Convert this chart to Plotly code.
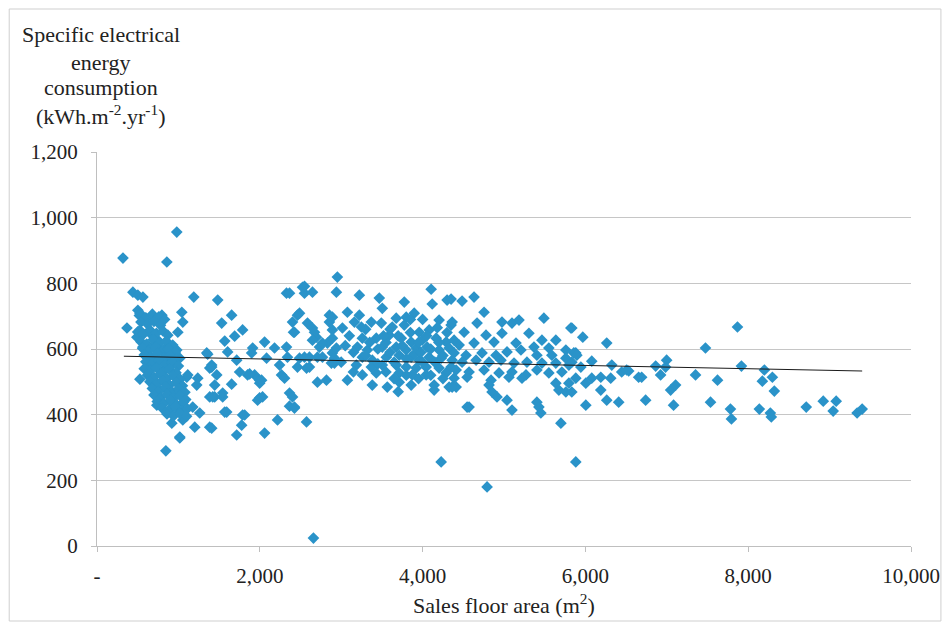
import plotly.graph_objects as go

# (sales floor area m2, specific electrical energy consumption kWh/m2/yr)
small_stores = [
    (319, 877), (858, 865), (980, 956), (846, 290), (1017, 329), (441, 773), (502, 764), (564, 758),
    (1189, 758), (368, 664), (502, 718), (527, 709), (686, 694), (797, 703), (1042, 712), (1054, 682),
    (993, 651), (490, 636), (527, 657), (650, 648), (748, 627), (564, 606), (686, 606), (858, 606),
    (980, 597), (1348, 588), (613, 575), (735, 566), (858, 575), (1017, 572), (650, 545), (772, 536),
    (895, 545), (1385, 542), (527, 508), (686, 505), (809, 505), (1103, 514), (1238, 511), (1225, 490),
    (1446, 490), (735, 484), (858, 475), (980, 466), (1054, 466), (1385, 454), (1446, 454), (772, 454),
    (735, 429), (931, 435), (895, 414), (1017, 405), (1176, 423), (1262, 405), (1054, 384), (919, 374),
    (1201, 362), (1385, 362), (1017, 332), (1409, 359), (1409, 551), (1360, 584), (1115, 521),
]

dense_small_stores = [
    (520, 702), (600, 695), (680, 706), (760, 698), (830, 690), (540, 682), (620, 676), (700, 684),
    (780, 672), (500, 652), (570, 645), (650, 658), (730, 648), (810, 655), (870, 642), (540, 622),
    (610, 615), (690, 628), (770, 618), (850, 624), (930, 612), (560, 602), (640, 596), (720, 605),
    (800, 594), (880, 600), (960, 590), (580, 582), (660, 575), (740, 586), (820, 572), (900, 580),
    (980, 570), (600, 561), (680, 555), (760, 564), (840, 552), (920, 560), (1000, 548), (580, 540),
    (650, 534), (730, 543), (810, 530), (890, 538), (970, 528), (620, 520), (700, 514), (780, 524),
    (860, 510), (940, 518), (1020, 508), (650, 500), (730, 494), (810, 503), (890, 490), (970, 498),
    (1050, 488), (680, 480), (760, 472), (840, 484), (920, 470), (1000, 478), (1080, 468), (700, 460),
    (780, 452), (860, 462), (940, 450), (1020, 458), (1090, 446), (740, 440), (820, 434), (900, 444),
    (980, 430), (1060, 438), (800, 420), (880, 414), (960, 424), (1040, 412), (1110, 418), (860, 402),
    (940, 396), (1020, 404), (1100, 395),
]

mid_stores = [
    (1483, 749), (1654, 703), (1532, 679), (1789, 658), (1691, 639), (1569, 624), (1605, 591), (1912, 603),
    (1900, 588), (2059, 621), (2181, 603), (2328, 606), (2340, 575), (2083, 572), (1716, 566), (1752, 530),
    (1850, 521), (1936, 521), (1998, 505), (1998, 496), (2243, 551), (2267, 521), (2304, 511), (2463, 545),
    (2488, 572), (2365, 466), (2365, 426), (2426, 420), (1998, 451), (2034, 454), (2218, 384), (1789, 399),
    (1777, 368), (1716, 338), (2059, 344), (2574, 378), (1569, 408), (1422, 454), (1544, 454), (1471, 521),
    (1409, 545), (2328, 770), (2549, 791), (2549, 770), (2647, 773), (2402, 682), (2488, 709), (2586, 679),
    (2647, 664), (2426, 651), (2696, 636), (2733, 606), (2831, 618), (2855, 703), (2892, 658), (2770, 575),
    (2610, 575), (2708, 499), (2819, 505), (2574, 542), (2953, 819), (1654, 493), (1875, 524), (2022, 505),
    (1593, 408), (1814, 399), (1973, 444), (1544, 466), (2525, 788), (2365, 770), (2414, 651), (2463, 703),
    (2672, 651), (2855, 682), (2770, 618), (2647, 627), (2892, 588), (2708, 575), (2549, 575), (2880, 557),
    (2610, 545), (2402, 454), (2426, 423), (2659, 24),
]

center_stores = [
    (2941, 773), (3223, 764), (3468, 755), (3775, 743), (4105, 782), (4118, 737), (4301, 749), (3076, 712),
    (3223, 703), (3505, 724), (2892, 697), (3162, 682), (3248, 667), (3370, 682), (3493, 679), (3676, 694),
    (3799, 697), (3897, 709), (3015, 664), (3627, 667), (3775, 673), (4203, 688), (4350, 673), (4081, 658),
    (3958, 651), (2892, 633), (3260, 633), (3431, 633), (3591, 642), (3738, 633), (3860, 621), (3995, 627),
    (4167, 633), (4289, 621), (4387, 627), (2941, 603), (3199, 606), (3321, 597), (3505, 606), (3676, 606),
    (3799, 597), (3922, 603), (4056, 606), (4203, 597), (4326, 603), (2917, 572), (3260, 575), (3382, 566),
    (3554, 575), (3713, 581), (3860, 575), (3958, 566), (4081, 575), (4228, 572), (4363, 566), (2917, 557),
    (3186, 551), (3370, 545), (3505, 551), (3676, 551), (3799, 545), (3922, 542), (4044, 545), (4203, 542),
    (3260, 521), (3431, 527), (3713, 527), (3873, 521), (4044, 521), (4289, 527), (3076, 505), (3382, 490),
    (3566, 484), (3713, 499), (3860, 490), (4142, 490), (4326, 484), (4412, 484), (4142, 475), (4228, 256),
    (4792, 180), (3100, 640), (3150, 590), (3300, 660), (3350, 620), (3450, 600), (3550, 620), (3600, 590),
    (3650, 560), (3700, 640), (3750, 610), (3800, 570), (3850, 650), (3900, 585), (3950, 620), (4000, 560),
    (4050, 640), (4100, 600), (4150, 560), (4200, 620), (4250, 580), (4300, 650), (4350, 545), (3550, 530),
    (3650, 510), (3950, 510), (4100, 520), (3450, 555), (3600, 660), (3850, 690), (4000, 690), (3300, 580),
    (3150, 530), (3000, 560), (3050, 610), (3700, 470), (3800, 520), (4250, 510), (4180, 665), (3520, 640),
    (3980, 590),
]

right_stores = [
    (4632, 758), (4485, 746), (4350, 752), (4755, 712), (5490, 694), (5821, 664), (4975, 682), (5184, 688),
    (5098, 679), (4669, 679), (4363, 682), (4510, 651), (4779, 642), (4975, 648), (5306, 648), (5466, 627),
    (5637, 627), (4449, 612), (4632, 618), (4877, 621), (5147, 618), (5368, 606), (5551, 603), (5760, 597),
    (4387, 588), (4534, 581), (4730, 588), (4902, 581), (5037, 591), (5208, 597), (5404, 581), (5588, 581),
    (5760, 572), (5882, 588), (4485, 560), (4657, 566), (4816, 560), (4963, 566), (5123, 557), (5282, 560),
    (5466, 557), (5637, 557), (5797, 551), (4412, 536), (4571, 530), (4755, 536), (4939, 527), (5098, 530),
    (5270, 521), (5404, 536), (5551, 527), (5711, 530), (4387, 511), (4547, 514), (4841, 505), (5061, 514),
    (5221, 511), (5637, 496), (5797, 496), (4363, 484), (4816, 490), (4853, 469), (4914, 454), (5674, 475),
    (5760, 469), (5037, 444), (5404, 438), (5429, 423), (5098, 414), (5453, 405), (4571, 423), (5699, 374),
    (5882, 256), (4547, 423),
]

large_stores = [
    (5833, 664), (5968, 636), (6262, 618), (5858, 588), (5895, 581), (6078, 563), (5833, 560), (5944, 545),
    (6324, 551), (6446, 530), (6532, 533), (5882, 511), (6005, 496), (6078, 511), (6189, 514), (6311, 511),
    (6654, 514), (5833, 469), (6189, 475), (6262, 444), (6409, 438), (6005, 429), (6740, 444), (6863, 548),
    (6998, 566), (6924, 521), (6985, 545), (7047, 475), (7108, 490), (7083, 429), (7353, 521), (7475, 603),
    (7868, 667), (7917, 548), (8199, 536), (8174, 502), (8297, 514), (8321, 472), (7623, 505), (7537, 438),
    (7782, 417), (7794, 387), (8137, 417), (8272, 405), (8284, 393), (8713, 423), (8922, 441), (9044, 411),
    (9081, 441), (9338, 405), (9400, 417), (6691, 514), (6507, 536),
]

trend_area = [330, 9400]
trend_consumption = [578, 533]

x_tick_values = [0, 2000, 4000, 6000, 8000, 10000]
x_tick_labels = ["-", "2,000", "4,000", "6,000", "8,000", "10,000"]
y_tick_values = [0, 200, 400, 600, 800, 1000, 1200]
y_tick_labels = ["0", "200", "400", "600", "800", "1,000", "1,200"]

y_title_lines = ["Specific electrical", "energy", "consumption",
                 "(kWh.m<sup>-2</sup>.yr<sup>-1</sup>)"]
x_title = "Sales floor area (m<sup>2</sup>)"

all_stores = small_stores + dense_small_stores + mid_stores + center_stores + right_stores + large_stores
area = [p[0] for p in all_stores]
consumption = [p[1] for p in all_stores]

FONT = "Liberation Serif, Times New Roman, serif"
TXT = "#222"
fig = go.Figure()
fig.add_trace(go.Scatter(
    x=area, y=consumption, mode="markers",
    marker=dict(symbol="diamond", size=9, color="#2A93C9", line=dict(width=0)),
    showlegend=False, hoverinfo="skip"))
fig.add_trace(go.Scatter(
    x=trend_area, y=trend_consumption, mode="lines",
    line=dict(color="#1a1a1a", width=1), showlegend=False, hoverinfo="skip"))

# plot area: 816 x 394 px
PW, PH = 816.0, 394.0
annotations = []
line_centres = [35, 62, 88, 115]  # screen px from top of the reference
for txt, cy in zip(y_title_lines, line_centres):
    annotations.append(dict(
        xref="paper", yref="paper", x=(101 - 97) / PW, y=(546 - cy) / PH,
        xanchor="center", yanchor="middle", text=txt, showarrow=False,
        font=dict(family=FONT, size=22, color=TXT)))
annotations.append(dict(
    xref="paper", yref="paper", x=(505 - 97) / PW, y=(546 - 604) / PH,
    xanchor="center", yanchor="middle", text=x_title, showarrow=False,
    font=dict(family=FONT, size=22, color=TXT)))

fig.update_layout(
    width=944, height=622,
    margin=dict(l=89, r=39, t=144, b=84),
    paper_bgcolor="white", plot_bgcolor="white",
    font=dict(family=FONT, size=21, color=TXT),
    xaxis=dict(range=[0, 10000], tickvals=x_tick_values, ticktext=x_tick_labels,
               showgrid=False, showline=True, linecolor="#bfbfbf", linewidth=1,
               ticks="outside", ticklen=5, tickcolor="#bfbfbf", zeroline=False,
               ticklabelstandoff=6, tickfont=dict(family=FONT, size=21, color=TXT)),
    yaxis=dict(range=[0, 1200], tickvals=y_tick_values, ticktext=y_tick_labels,
               showgrid=True, gridcolor="#c6c6c6", gridwidth=1,
               showline=True, linecolor="#bfbfbf", linewidth=1,
               ticks="outside", ticklen=5, tickcolor="#bfbfbf", zeroline=False,
               ticklabelstandoff=9, tickfont=dict(family=FONT, size=21, color=TXT)),
    shapes=[dict(type="rect", xref="paper", yref="paper",
                 x0=(9 - 97) / PW, x1=(943 - 97) / PW, y0=(546 - 621) / PH, y1=(546 - 9) / PH,
                 line=dict(color="#cfcfcf", width=1), fillcolor="rgba(0,0,0,0)", layer="below")],
    annotations=annotations,
)

fig.write_html("out.html")
